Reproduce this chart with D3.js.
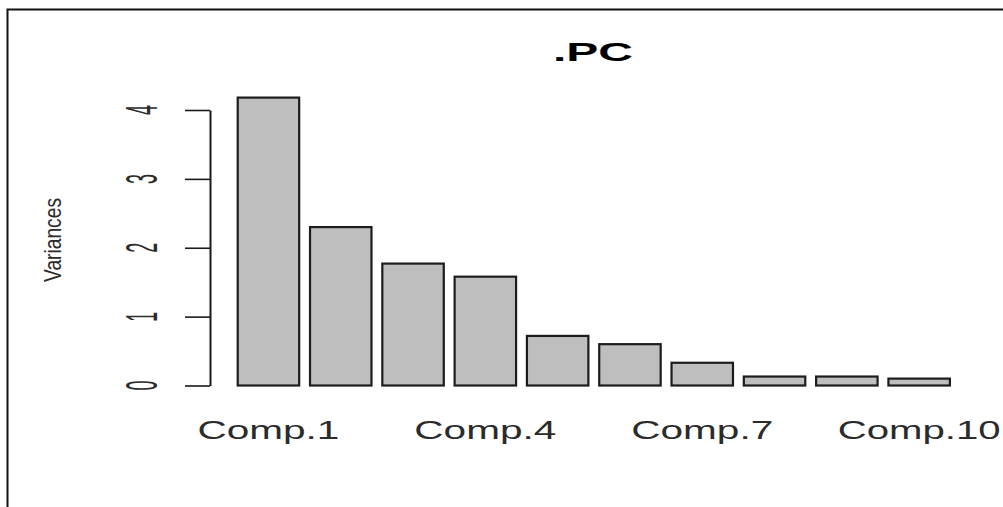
<!DOCTYPE html>
<html>
<head>
<meta charset="utf-8">
<script src="https://cdn.jsdelivr.net/npm/d3@7"></script>
<style>
  html, body { margin: 0; padding: 0; background: #fff; }
  svg { display: block; }
  text { font-family: "Liberation Sans", Arial, sans-serif; fill: #2b2b2b; }
</style>
</head>
<body>
<svg id="chart" width="1003" height="507"></svg>
<script>
// Screeplot of principal component variances
const components = ["Comp.1", "Comp.2", "Comp.3", "Comp.4", "Comp.5",
                    "Comp.6", "Comp.7", "Comp.8", "Comp.9", "Comp.10"];
const variances = [4.18, 2.30, 1.77, 1.58, 0.72, 0.60, 0.33, 0.13, 0.13, 0.10];
const yTicks = [0, 1, 2, 3, 4];
const shownLabels = ["Comp.1", "Comp.4", "Comp.7", "Comp.10"];
const titleText = ".PC";
const yLabelText = "Variances";

const svg = d3.select("#chart");

// frame lines (top and left edges)
svg.append("path")
  .attr("d", "M7.5,507V9.5H1003")
  .attr("fill", "none")
  .attr("stroke", "#111")
  .attr("stroke-width", 2);

const x = d3.scaleBand()
  .domain(components)
  .range([232.3, 955.3])
  .paddingInner(0.15)
  .paddingOuter(0.075);

const y = d3.scaleLinear()
  .domain([0, 4])
  .range([385.5, 110]);

// bars
svg.append("g")
  .selectAll("rect")
  .data(components)
  .join("rect")
  .attr("x", d => x(d))
  .attr("y", (d, i) => y(variances[i]))
  .attr("width", x.bandwidth())
  .attr("height", (d, i) => y(0) - y(variances[i]))
  .attr("fill", "#bebebe")
  .attr("stroke", "#1c1c1c")
  .attr("stroke-width", 2.2);

// y axis
const yAxis = svg.append("g")
  .attr("transform", "translate(210,0)")
  .call(d3.axisLeft(y).tickValues(yTicks).tickSize(25).tickSizeOuter(0).tickFormat(d3.format("d")));
yAxis.select(".domain").attr("stroke", "#1a1a1a").attr("stroke-width", 2);
yAxis.selectAll(".tick line").attr("stroke", "#1a1a1a").attr("stroke-width", 1.6);
yAxis.selectAll(".tick text").remove();

// y tick labels, parallel to the axis
svg.append("g")
  .selectAll("text")
  .data(yTicks)
  .join("text")
  .attr("transform", d => `translate(157,${y(d)}) rotate(-90)`)
  .attr("text-anchor", "middle")
  .attr("font-size", 44)
  .attr("textLength", 10)
  .attr("lengthAdjust", "spacingAndGlyphs")
  .text(d => d);

// y axis title
svg.append("text")
  .attr("transform", "translate(61,240) rotate(-90)")
  .attr("text-anchor", "middle")
  .attr("font-size", 24)
  .attr("textLength", 84)
  .attr("lengthAdjust", "spacingAndGlyphs")
  .text(yLabelText);

// category labels
svg.append("g")
  .selectAll("text")
  .data(shownLabels)
  .join("text")
  .attr("x", d => x(d) + x.bandwidth() / 2)
  .attr("y", 438.5)
  .attr("text-anchor", "middle")
  .attr("font-size", 25)
  .attr("textLength", d => d.length > 6 ? 163 : 142)
  .attr("lengthAdjust", "spacingAndGlyphs")
  .text(d => d);

// title
svg.append("text")
  .attr("x", 593)
  .attr("y", 61)
  .attr("text-anchor", "middle")
  .attr("font-size", 25)
  .attr("font-weight", "bold")
  .attr("textLength", 80)
  .attr("lengthAdjust", "spacingAndGlyphs")
  .style("fill", "#000")
  .text(titleText);
</script>
</body>
</html>
